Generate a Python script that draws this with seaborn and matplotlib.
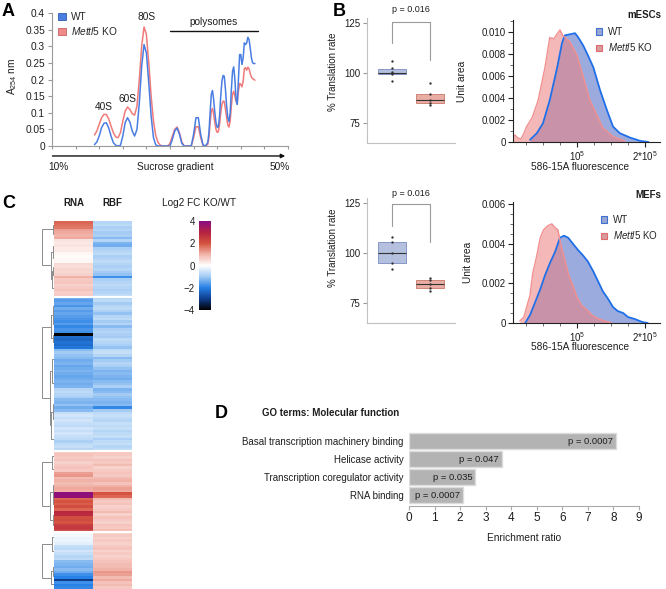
import numpy as np
import pandas as pd
import matplotlib
matplotlib.use("Agg")
import matplotlib.pyplot as plt
import seaborn as sns
from matplotlib.colors import LinearSegmentedColormap
from matplotlib.patches import Patch
from matplotlib.ticker import MultipleLocator

# ======================= DATA =======================
# Panel A: polysome profile, A254 along sucrose gradient (position 0-100)
gradient_pos = list(np.arange(18, 66, 1.0)) + list(np.arange(66, 86.01, 0.5))
wt_a254 = [0.004, 0.012, 0.030, 0.055, 0.068, 0.070, 0.055, 0.030, 0.010, 0.002,
           0.000, 0.002, 0.030, 0.070, 0.085, 0.072, 0.045, 0.030, 0.050, 0.130,
           0.240, 0.305, 0.280, 0.190, 0.090, 0.025, 0.003, 0.000, 0.000, 0.000,
           0.000, 0.000, 0.000, 0.020, 0.045, 0.054, 0.035, 0.008, 0.000, 0.000,
           0.000, 0.000, 0.035, 0.085, 0.085, 0.035, 0.003, 0.000,
           0.010, 0.040, 0.100, 0.155, 0.167, 0.140, 0.100, 0.070, 0.056, 0.058,
           0.090, 0.150, 0.195, 0.212, 0.210, 0.170, 0.120, 0.085, 0.073, 0.100,
           0.170, 0.225, 0.238, 0.200, 0.140, 0.125, 0.200, 0.275, 0.275, 0.245,
           0.265, 0.310, 0.305, 0.310, 0.327, 0.320, 0.295, 0.265, 0.250, 0.248,
           0.248]
ko_a254 = [0.033, 0.045, 0.065, 0.085, 0.095, 0.095, 0.082, 0.060, 0.040, 0.027,
           0.025, 0.040, 0.075, 0.105, 0.117, 0.110, 0.097, 0.093, 0.120, 0.200,
           0.300, 0.358, 0.335, 0.250, 0.150, 0.075, 0.030, 0.010, 0.002, 0.000,
           0.000, 0.000, 0.008, 0.030, 0.050, 0.057, 0.040, 0.012, 0.000, 0.000,
           0.000, 0.000, 0.025, 0.058, 0.058, 0.025, 0.002, 0.000,
           0.005, 0.025, 0.070, 0.105, 0.113, 0.095, 0.070, 0.050, 0.041, 0.043,
           0.065, 0.100, 0.125, 0.135, 0.134, 0.110, 0.085, 0.063, 0.057, 0.075,
           0.120, 0.155, 0.165, 0.150, 0.133, 0.132, 0.165, 0.188, 0.185, 0.178,
           0.195, 0.232, 0.236, 0.228, 0.237, 0.232, 0.218, 0.207, 0.203, 0.200,
           0.198]
a_yticks = [0, 0.05, 0.1, 0.15, 0.2, 0.25, 0.3, 0.35, 0.4]
a_ytick_labels = ["0", "0.05", "0.1", "0.15", "0.2", "0.25", "0.3", "0.35", "0.4"]
peak_labels = ["40S", "60S", "80S"]
peak_pos = [22.0, 32.0, 40.0]
peak_y = [0.117, 0.141, 0.388]

# Panel B: % translation rate
mesc_wt_rate = [96.0, 99.5, 100.0, 100.3, 102.6, 106.0]
mesc_ko_rate = [84.0, 85.0, 86.5, 89.5, 95.0]
mef_wt_rate = [92.0, 95.0, 100.0, 105.5, 108.0]
mef_ko_rate = [81.0, 82.5, 84.5, 86.5, 87.5]
p_translation = "p = 0.016"

# Panel B: fluorescence histograms (x in units of 1e5)
mesc_ko_x = [0.06, 0.09, 0.13, 0.18, 0.22, 0.26, 0.34, 0.43, 0.53, 0.60, 0.66,
             0.75, 0.79, 0.90, 1.00, 1.09, 1.19, 1.29, 1.38, 1.53, 1.70]
mesc_ko_y = [0.0004, 0.00064, 0.00036, 0.0003, 0.0008, 0.0014, 0.0022, 0.0038,
             0.0068, 0.0095, 0.0094, 0.0102, 0.0097, 0.0091, 0.0079, 0.0060,
             0.0038, 0.0025, 0.0013, 0.0005, 0.0001]
mesc_wt_x = [0.31, 0.41, 0.50, 0.60, 0.71, 0.78, 0.82, 0.90, 0.97, 1.01, 1.09,
             1.16, 1.24, 1.34, 1.44, 1.53, 1.63, 1.78, 1.93, 2.05]
mesc_wt_y = [0.0002, 0.0008, 0.0017, 0.0038, 0.0068, 0.0090, 0.0097, 0.0098,
             0.0099, 0.0096, 0.0088, 0.0079, 0.0068, 0.0047, 0.0029, 0.0014,
             0.0008, 0.0004, 0.0001, 0.0]
mef_ko_x = [0.16, 0.22, 0.26, 0.31, 0.35, 0.41, 0.46, 0.51, 0.57, 0.63, 0.68,
            0.72, 0.76, 0.82, 0.88, 0.94, 1.00, 1.07, 1.15, 1.22, 1.29, 1.41, 1.51]
mef_ko_y = [0.0001, 0.0003, 0.0008, 0.0014, 0.0025, 0.0034, 0.0043, 0.0047,
            0.0049, 0.0050, 0.0048, 0.0047, 0.0040, 0.0032, 0.0024, 0.0019,
            0.0013, 0.0009, 0.00065, 0.0004, 0.00025, 0.0001, 0.0]
mef_wt_x = [0.24, 0.31, 0.38, 0.46, 0.53, 0.60, 0.68, 0.75, 0.81, 0.87, 0.94,
            1.01, 1.09, 1.16, 1.24, 1.31, 1.38, 1.46, 1.53, 1.60, 1.68, 1.75,
            1.85, 1.96, 2.04]
mef_wt_y = [0.0, 0.0004, 0.0010, 0.0017, 0.0024, 0.0030, 0.0036, 0.0043, 0.0044,
            0.0043, 0.0040, 0.0037, 0.0034, 0.0031, 0.0026, 0.0021, 0.0016,
            0.0012, 0.0008, 0.0006, 0.0005, 0.0003, 0.0002, 0.00005, 0.0]

# Panel C: log2 FC KO/WT heatmap, four clusters
rna_c1 = [1.8, 1.7, 1.6, 1.2, 1.1, 1.0, 1.1, 0.4, 0.3, 0.35, 0.25, 0.3, 0.1, 0.05,
          0.1, 0.1, 0.5, 0.45, 0.55, 0.5, 0.6, 1.0, 0.7, 0.75, 0.6, 0.7, 0.8, 0.65, 0.7]
rbf_c1 = [-0.8, -0.7, -0.9, -0.8, -1.0, -0.9, -1.2, -0.8, -1.3, -1.4,
          -0.9, -0.8, -0.7, -0.9, -0.8, -0.7, -0.8, -0.9, -0.8, -1.0,
          -1.1, -1.8, -0.9, -0.8, -0.7, -0.8, -0.9, -0.8, -0.7]
rna_c2 = [-1.5, -1.6, -1.5, -1.7, -1.4, -1.6, -1.5, -1.6, -1.7, -1.8, -1.6, -1.9,
          -1.7, -1.8, -4.0, -2.3, -2.4, -2.2, -2.3, -2.1, -1.2, -1.0, -1.1, -1.2,
          -1.4, -1.3, -1.5, -1.4, -1.3, -1.4, -1.5, -1.4, -1.3, -1.4, -1.3,
          -0.8, -0.7, -0.8, -0.9, -1.2, -1.3, -1.1, -1.4, -1.2,
          -0.6, -0.5, -0.6, -0.5, -0.6, -0.7, -0.5, -0.6, -0.5, -0.6, -0.7, -0.9,
          -0.7, -0.6, -0.8]
rbf_c2 = [-0.9, -0.7, -1.0, -0.8, -0.7, -0.9, -1.1, -0.8, -0.7, -1.0,
          -0.8, -1.2, -0.9, -0.8, -0.9, -1.0, -0.7, -0.8, -0.9, -1.1,
          -0.7, -0.6, -0.8, -1.2, -1.0, -0.8, -0.9, -1.1, -1.3, -1.2,
          -1.3, -1.4, -1.2, -1.1, -0.9, -1.3, -1.2, -1.0, -1.1, -1.2,
          -1.3, -1.2, -1.9, -1.0, -0.7, -0.6, -0.7, -0.8, -0.6, -0.7,
          -0.6, -0.8, -0.7, -0.6, -0.9, -0.7, -0.6, -0.8, -0.7]
rna_c3 = [0.7, 0.8, 0.7, 0.8, 0.6, 0.7, 0.8, 0.7, 1.2, 1.3, 0.9, 1.0, 0.9, 1.0,
          1.1, 1.0, 3.9, 3.8, 1.8, 2.0, 1.9, 2.1, 1.8, 2.9, 2.8, 2.1, 2.2, 2.0,
          2.4, 2.5, 2.4]
rbf_c3 = [0.8, 0.7, 0.6, 0.8, 0.7, 0.9, 0.6, 0.7, 0.8, 0.7,
          0.9, 1.0, 0.8, 1.0, 1.2, 1.1, 2.0, 1.8, 0.9, 0.7,
          0.8, 0.6, 0.7, 0.9, 0.6, 0.8, 0.7, 0.6, 0.8, 0.7, 0.9]
rna_c4 = [-0.1, -0.15, -0.2, -0.2, -0.3, -0.6, -0.7, -0.5, -0.6, -0.8, -0.7,
          -1.2, -1.3, -1.4, -1.2, -1.4, -1.8, -2.0, -3.0, -1.8, -2.0, -1.9]
rbf_c4 = [0.6, 0.7, 0.6, 0.7, 0.6, 0.7, 0.8, 0.6, 0.7, 0.6,
          0.7, 0.8, 0.9, 0.9, 1.0, 1.3, 1.2, 0.9, 1.1, 0.8, 0.9, 0.7]
# dendrogram topology per cluster: (height, left, right); leaf = [first_row, end_row)
tree_c1 = (0.86, (0.08, [0, 3], [3, 7]),
           (0.2, (0.1, [7, 12], [12, 16]), (0.12, (0.05, [16, 19], [19, 22]), [22, 29])))
tree_c2 = (0.86, (0.25, (0.06, [0, 7], [7, 14]), (0.1, [14, 15], [15, 20])),
           (0.3, (0.15, [20, 28], [28, 38]), (0.22, (0.1, [38, 44], [44, 50]), [50, 59])))
tree_c3 = (0.86, (0.15, [0, 4], [4, 10]),
           (0.28, (0.1, [10, 16], (0.05, [16, 18], [18, 23])), (0.08, [23, 26], [26, 31])))
tree_c4 = (0.86, (0.12, [0, 4], [4, 11]), (0.25, (0.1, [11, 16], [16, 18]), [18, 22]))
cbar_ticks = [-4, -2, 0, 2, 4]

# Panel D: GO terms
go_terms = ["Basal transcription machinery binding", "Helicase activity",
            "Transcription coregulator activity", "RNA binding"]
go_ratio = [8.1, 3.65, 2.6, 2.1]
go_p = ["p = 0.0007", "p = 0.047", "p = 0.035", "p = 0.0007"]

# ======================= STYLE =======================
sns.set_theme(style="ticks")
plt.rcParams['font.family'] = ['Liberation Sans', 'DejaVu Sans']
plt.rcParams.update({'mathtext.fontset': 'custom', 'mathtext.rm': 'Liberation Sans',
                     'mathtext.it': 'Liberation Sans:italic',
                     'mathtext.bf': 'Liberation Sans:bold',
                     'axes.linewidth': 0.8, 'font.size': 7})
TXT = '#1e1e1e'
A_BLUE, A_RED = '#4a7de2', '#f07a7a'

W, H = 666, 589
fig = plt.figure(figsize=(W / 100, H / 100), dpi=100)
fig.patch.set_facecolor('white')


def add_ax(x0, y0, x1, y1):
    return fig.add_axes([x0 / W, 1 - y1 / H, (x1 - x0) / W, (y1 - y0) / H])


def ftext(x, y, s, **kw):
    kw.setdefault('va', 'center')
    kw.setdefault('fontsize', 7)
    kw.setdefault('color', TXT)
    fig.text(x / W, 1 - y / H, s, **kw)


ko_label = r'$\mathit{Mettl5}$ KO'

# ======================= PANEL A =======================
axA = add_ax(52, 13, 288, 146)
n = len(gradient_pos)
prof = pd.DataFrame({'pos': gradient_pos * 2, 'A254': ko_a254 + wt_a254,
                     'genotype': ['Mettl5 KO'] * n + ['WT'] * n})
sns.lineplot(data=prof, x='pos', y='A254', hue='genotype', hue_order=['Mettl5 KO', 'WT'],
             palette={'WT': A_BLUE, 'Mettl5 KO': A_RED}, estimator=None, sort=False,
             lw=1.1, legend=False, ax=axA)
for ln in axA.lines:
    ln.set_clip_on(False)
axA.set_xlim(0, 100)
axA.set_ylim(0, 0.4)
axA.set_yticks(a_yticks)
axA.set_yticklabels(a_ytick_labels)
axA.set_xticks(np.arange(0, 101, 10))
axA.set_xticklabels([])
axA.set_xlabel('')
axA.set_ylabel('')
for s in ['top', 'right']:
    axA.spines[s].set_visible(False)
for s in ['left', 'bottom']:
    axA.spines[s].set_color('#9a9a9a')
axA.tick_params(axis='y', direction='out', length=3, width=0.8, color='#9a9a9a',
                labelsize=7.3, labelcolor=TXT, pad=2)
axA.tick_params(axis='x', direction='out', length=2.5, width=0.8, color='#9a9a9a')
for lab, px, py in zip(peak_labels, peak_pos, peak_y):
    axA.text(px, py, lab, ha='center', va='center', fontsize=7.3, color=TXT)
axA.text(68.3, 0.372, 'polysomes', ha='center', va='center', fontsize=7.3, color=TXT)
axA.plot([50, 87.3], [0.346, 0.346], color='#111', lw=1.0, clip_on=False)
axA.annotate('', xy=(1.0, -0.075), xytext=(-0.01, -0.075), xycoords='axes fraction',
             arrowprops=dict(arrowstyle='-|>', color='#111', lw=1.0, mutation_scale=6))
axA.legend(handles=[Patch(facecolor='#4b7de0', edgecolor='#2e5db5', lw=0.6, label='WT'),
                    Patch(facecolor='#f08a8a', edgecolor='#c86060', lw=0.6, label=ko_label)],
           loc='upper left', bbox_to_anchor=(58 / W, 1 - 12 / H), bbox_transform=fig.transFigure,
           frameon=False, fontsize=7.3, handlelength=0.8, handleheight=0.8, handletextpad=0.5,
           labelspacing=0.3, borderpad=0, borderaxespad=0)
ftext(12, 76, r'A$_{254}$ nm', rotation=90, ha='center', fontsize=7.3)
ftext(58, 167, '10%', ha='center', fontsize=7.3)
ftext(175, 167, 'Sucrose gradient', ha='center', fontsize=7.3)
ftext(280, 167, '50%', ha='center', fontsize=7.3)

# ======================= PANEL B: boxes =======================
box_pal = {'WT': '#aebce6', 'Mettl5 KO': '#f4a597'}
box_edge = ['#8596c8', '#cf8578']


def draw_box(ax, wt_vals, ko_vals, brk_y, leg_l, leg_r, p_y, ylab_y):
    df = pd.DataFrame({'genotype': ['WT'] * len(wt_vals) + ['Mettl5 KO'] * len(ko_vals),
                       'rate': wt_vals + ko_vals})
    order = ['WT', 'Mettl5 KO']
    sns.boxplot(data=df, x='genotype', y='rate', hue='genotype', order=order, hue_order=order,
                palette=box_pal, width=0.74, whis=0, showfliers=False, showcaps=False,
                linewidth=0.7, dodge=False, legend=False,
                medianprops={'color': '#333', 'lw': 0.8}, whiskerprops={'lw': 0}, ax=ax)
    for patch, ec in zip(ax.patches, box_edge):
        patch.set_edgecolor(ec)
    sns.stripplot(data=df, x='genotype', y='rate', order=order, color='#333', size=1.7,
                  jitter=False, ax=ax)
    ax.set_xlim(-0.66, 1.66)
    ax.set_ylim(65, 127.5)
    ax.set_yticks([75, 100, 125])
    ax.set_xticks([])
    ax.set_xlabel('')
    ax.set_ylabel('% Translation rate', fontsize=7, color=TXT)
    ax.yaxis.set_label_coords(-0.33, ylab_y)
    for s in ['top', 'right']:
        ax.spines[s].set_visible(False)
    for s in ['left', 'bottom']:
        ax.spines[s].set_color('#c0c0c0')
    ax.tick_params(axis='y', length=3, width=0.8, color='#999', labelsize=7,
                   labelcolor=TXT, pad=2)
    ax.plot([0, 0, 1, 1], [leg_l, brk_y, brk_y, leg_r], color='#9a9a9a', lw=0.8, clip_on=False)
    ax.text(0.5, p_y, p_translation, ha='center', va='center', fontsize=6.5, color=TXT)


axB1 = add_ax(367, 18, 455, 143)
draw_box(axB1, mesc_wt_rate, mesc_ko_rate, 125.5, 115, 106.5, 131.5, 0.57)
axB2 = add_ax(367, 198, 455, 323)
draw_box(axB2, mef_wt_rate, mef_ko_rate, 124.5, 113.5, 105.5, 129.5, 0.6)

# ======================= PANEL B: histograms =======================


def draw_hist(ax, wx, wy, kx, ky, ymax, yticks, ylabels, minor, ylab_x, xlab_y):
    ax.fill_between(wx, wy, color='#5a74c8', alpha=0.6, lw=0)
    sns.lineplot(x=wx, y=wy, color='#1f6fe8', lw=1.3, ax=ax, estimator=None, sort=False)
    ax.fill_between(kx, ky, color='#ee7f7f', alpha=0.55, lw=0)
    sns.lineplot(x=kx, y=ky, color='#f29090', lw=1.0, ax=ax, estimator=None, sort=False)
    ax.set_xlim(0.06, 2.22)
    ax.set_ylim(0, ymax)
    ax.set_yticks(yticks)
    ax.set_yticklabels(ylabels)
    ax.yaxis.set_minor_locator(MultipleLocator(minor))
    ax.set_xticks([1, 2])
    ax.set_xticklabels([r'$10^5$', r'$2{*}10^5$'])
    ax.xaxis.set_minor_locator(MultipleLocator(0.25))
    for s in ['top', 'right']:
        ax.spines[s].set_visible(False)
    for s in ['left', 'bottom']:
        ax.spines[s].set_color('#222')
    ax.tick_params(which='major', length=3.5, width=0.8, color='#222', labelsize=7,
                   labelcolor=TXT, pad=1.5)
    ax.tick_params(which='minor', length=2, width=0.6, color='#555')
    ax.set_ylabel('Unit area', fontsize=7.3, color=TXT)
    ax.yaxis.set_label_coords(ylab_x, 0.5)
    ax.set_xlabel('586-15A fluorescence', fontsize=7.3, color=TXT)
    ax.xaxis.label.set_va('center')
    ax.xaxis.set_label_coords(0.456, xlab_y)


hist_handles = [Patch(facecolor='#96a7d6', edgecolor='#3f6fd0', lw=0.8, label='WT'),
                Patch(facecolor='#d89a9a', edgecolor='#e06a6a', lw=0.8, label=ko_label)]

axH1 = add_ax(513, 20, 660, 142)
draw_hist(axH1, mesc_wt_x, mesc_wt_y, mesc_ko_x, mesc_ko_y, 0.0111,
          [0, 0.002, 0.004, 0.006, 0.008, 0.010],
          ['0', '0.002', '0.004', '0.006', '0.008', '0.010'], 0.001, -0.31, -0.205)
axH1.legend(handles=hist_handles, loc='upper left', bbox_to_anchor=(596 / W, 1 - 27 / H),
            bbox_transform=fig.transFigure, frameon=False, fontsize=7, handlelength=0.6,
            handleheight=0.6, handletextpad=0.6, labelspacing=0.45, borderpad=0,
            borderaxespad=0)
ftext(661, 15, 'mESCs', ha='right', fontweight='bold')

axH2 = add_ax(513, 202, 660, 323)
draw_hist(axH2, mef_wt_x, mef_wt_y, mef_ko_x, mef_ko_y, 0.0061,
          [0, 0.002, 0.004, 0.006], ['0', '0.002', '0.004', '0.006'], 0.0005, -0.27, -0.2)
axH2.legend(handles=hist_handles, loc='upper left', bbox_to_anchor=(601 / W, 1 - 215 / H),
            bbox_transform=fig.transFigure, frameon=False, fontsize=7, handlelength=0.6,
            handleheight=0.6, handletextpad=0.6, labelspacing=0.45, borderpad=0,
            borderaxespad=0)
ftext(661, 195, 'MEFs', ha='right', fontweight='bold')

# ======================= PANEL C =======================
rna_all = rna_c1 + rna_c2 + rna_c3 + rna_c4
rbf_all = rbf_c1 + rbf_c2 + rbf_c3 + rbf_c4
mat = pd.DataFrame({'RNA': rna_all, 'RBF': rbf_all})
N = len(mat)
cmap = LinearSegmentedColormap.from_list(
    'fc', [(0.0, '#000000'), (0.125, '#0f3d8c'), (0.25, '#2680e6'), (0.375, '#a2caf4'),
           (0.5, '#ffffff'), (0.625, '#f2b4aa'), (0.75, '#d5533f'), (0.875, '#b5223f'),
           (1.0, '#8a0c82')])
axHM = add_ax(54, 221, 132, 589)
axCB = add_ax(199, 221, 211, 310)
sns.heatmap(mat, cmap=cmap, vmin=-4, vmax=4, ax=axHM, cbar_ax=axCB,
            xticklabels=False, yticklabels=False)
sizes = [len(rna_c1), len(rna_c2), len(rna_c3), len(rna_c4)]
bounds = np.cumsum(sizes)[:-1]
for b in bounds:
    axHM.axhline(b, color='white', lw=1.6)
cb = axHM.collections[0].colorbar
cb.outline.set_visible(False)
cb.set_ticks(cbar_ticks)
axCB.yaxis.set_ticks_position('left')
axCB.tick_params(length=0, labelsize=7, pad=3, labelcolor=TXT)
ftext(199, 203, 'Log2 FC KO/WT', ha='center', fontsize=7.2)
ftext(73.5, 203, 'RNA', ha='center', fontweight='bold')
ftext(112.5, 203, 'RBF', ha='center', fontweight='bold')

axDen = add_ax(40, 221, 54, 589)
axDen.set_xlim(1.0, 0)
axDen.set_ylim(N, 0)
axDen.axis('off')


def draw_tree(ax, node, offset):
    if isinstance(node, list):
        return offset + (node[0] + node[1]) / 2.0, 0.0
    h, left, right = node
    yl, hl = draw_tree(ax, left, offset)
    yr, hr = draw_tree(ax, right, offset)
    ax.plot([hl, h, h, hr], [yl, yl, yr, yr], color='#8c8c8c', lw=0.7,
            solid_capstyle='butt')
    return (yl + yr) / 2.0, h


starts = [0] + list(bounds)
for tree, st in zip([tree_c1, tree_c2, tree_c3, tree_c4], starts):
    draw_tree(axDen, tree, st)

# ======================= PANEL D =======================
go = pd.DataFrame({'term': go_terms, 'ratio': go_ratio})
axD = add_ax(409, 432, 639, 506)
sns.barplot(data=go, x='ratio', y='term', orient='h', color='#b3b3b3', saturation=1,
            edgecolor='#dcdcdc', linewidth=1, width=0.88, ax=axD)
axD.set_xlim(0, 9)
axD.set_ylim(3.61, -0.5)
axD.set_xticks(range(10))
for i, (r, p) in enumerate(zip(go_ratio, go_p)):
    axD.text(r - 0.12, i, p, ha='right', va='center', fontsize=6.8, color=TXT)
for s in ['top', 'right', 'left']:
    axD.spines[s].set_visible(False)
axD.spines['bottom'].set_color('#aaaaaa')
axD.tick_params(axis='y', length=0, pad=4, labelsize=7, labelcolor=TXT)
axD.tick_params(axis='x', length=3, width=0.8, color='#aaaaaa', labelsize=8.5,
                labelcolor=TXT, pad=1.5)
axD.set_ylabel('')
axD.set_xlabel('Enrichment ratio', fontsize=7.3, color=TXT)
axD.xaxis.set_label_coords(0.5, -0.36)
ftext(262, 413, 'GO terms: Molecular function', ha='left', fontweight='bold')

# panel letters
ftext(8, 11, 'A', fontsize=13, fontweight='bold', ha='center', color='black')
ftext(339, 12, 'B', fontsize=13, fontweight='bold', ha='center', color='black')
ftext(9, 203, 'C', fontsize=13, fontweight='bold', ha='center', color='black')
ftext(221, 413, 'D', fontsize=13, fontweight='bold', ha='center', color='black')

fig.savefig('out.png', dpi=100)
